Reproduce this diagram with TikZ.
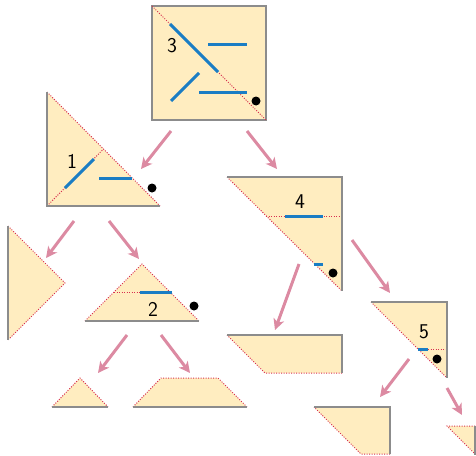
\documentclass[tikz,border=0pt]{standalone}
\usetikzlibrary{arrows.meta}
\definecolor{paper}{HTML}{FFEDC0}
\definecolor{edgegray}{HTML}{8C8C8C}
\definecolor{cutred}{HTML}{D8304F}
\definecolor{foldblue}{HTML}{1A7DC4}
\definecolor{arrpink}{HTML}{DC8AA2}
\tikzset{
  piece/.style={fill=paper,draw=none},
  edge/.style={draw=edgegray,line width=1.2pt},
  cut/.style={draw=cutred,line width=1pt,dash pattern=on 1pt off 1.5pt},
  fold/.style={draw=foldblue,line width=3pt},
  dotmark/.style={circle,fill=black,inner sep=0pt,minimum size=9pt},
  num/.style={font=\fontsize{21}{24}\selectfont\sffamily,inner sep=0pt},
  arr/.style={draw=arrpink,line width=3pt,-{Stealth[length=11pt,width=11pt,inset=3pt]}}
}
\begin{document}
\begin{tikzpicture}[x=1pt,y=-1pt]
\useasboundingbox (0,0) rectangle (476,455);
% ---------- square 3
\coordinate (s3a) at (152,6); \coordinate (s3b) at (266,6);
\coordinate (s3c) at (266,120); \coordinate (s3d) at (152,120);
\fill[paper] (s3a) -- (s3b) -- (s3c) -- (s3d) -- cycle;
\draw[edge] (s3a) -- (s3b) -- (s3c) -- (s3d) -- cycle;
\draw[cut] (s3a) -- (s3c);
\draw[fold] (170,24) -- (218,72);
\draw[fold] (208,44) -- (247,44);
\draw[fold] (171,101) -- (199,73);
\draw[fold] (199,92) -- (247,92);
\node[dotmark] (d3) at (256,101) {};
\node[num] (n3) at (172,46) {3};
% ---------- triangle 1
\coordinate (t1a) at (47,92); \coordinate (t1b) at (47,206); \coordinate (t1c) at (160,206);
\fill[paper] (t1a) -- (t1b) -- (t1c) -- cycle;
\draw[cut] (t1a) -- (t1c);
\draw[cut] (t1b) -- (103.5,149);
\draw[edge] (t1a) -- (t1b) -- (t1c);
\draw[fold] (65,188) -- (94,159);
\draw[fold] (99,178) -- (132,178);
\node[dotmark] (d1) at (152,188) {};
\node[num] (n1) at (72,161) {1};
% ---------- triangle 4
\coordinate (t4a) at (227,177); \coordinate (t4b) at (342,177); \coordinate (t4c) at (342,291);
\fill[paper] (t4a) -- (t4b) -- (t4c) -- cycle;
\draw[cut] (t4a) -- (t4c);
\draw[cut] (266,216) -- (342,216);
\draw[edge] (t4a) -- (t4b) -- (t4c);
\draw[fold] (285,216) -- (323,216);
\draw[fold] (314,264) -- (323,264);
\node[dotmark] (d4) at (333,273) {};
\node[num] (n4) at (300,202) {4};
% ---------- triangle 5
\coordinate (t5a) at (371,302); \coordinate (t5b) at (447,302); \coordinate (t5c) at (447,378);
\fill[paper] (t5a) -- (t5b) -- (t5c) -- cycle;
\draw[cut] (t5a) -- (t5c);
\draw[cut] (418,349) -- (447,349);
\draw[edge] (t5a) -- (t5b) -- (t5c);
\draw[fold] (418,349) -- (428,349);
\node[dotmark] (d5) at (437,359) {};
\node[num] (n5) at (424,332) {5};
% ---------- trapezoid from 4
\fill[paper] (227,335) -- (342,335) -- (342,373) -- (265,373) -- cycle;
\draw[cut] (342,373) -- (265,373) -- (227,335);
\draw[edge] (227,335) -- (342,335) -- (342,373);
% ---------- piece from 5 (left)
\fill[paper] (314,407) -- (390,407) -- (390,454) -- (361,454) -- cycle;
\draw[cut] (390,454) -- (361,454) -- (314,407);
\draw[edge] (314,407) -- (390,407) -- (390,454);
% ---------- small triangle from 5
\fill[paper] (447,426) -- (475,426) -- (475,454) -- cycle;
\draw[cut] (475,426) -- (447,426) -- (475,454);
\draw[edge] (475,426) -- (475,455);
% ---------- left triangle
\fill[paper] (8,226) -- (65,283) -- (8,340) -- cycle;
\draw[cut] (8,226) -- (65,283) -- (8,340);
\draw[edge] (8,226) -- (8,340);
% ---------- triangle 2
\coordinate (t2a) at (142,264); \coordinate (t2b) at (85,321); \coordinate (t2c) at (199,321);
\fill[paper] (t2a) -- (t2b) -- (t2c) -- cycle;
\draw[cut] (t2b) -- (t2a) -- (t2c);
\draw[cut] (114,292) -- (171,292);
\draw[edge] (t2b) -- (t2c);
\draw[fold] (140,292) -- (172,292);
\node[dotmark] (d2) at (194,306) {};
\node[num] (n2) at (153,309) {2};
% ---------- small triangle bottom
\fill[paper] (80,378) -- (52,407) -- (108,407) -- cycle;
\draw[cut] (52,407) -- (80,378) -- (108,407);
\draw[edge] (52,407) -- (108,407);
% ---------- trapezoid bottom
\fill[paper] (161,378) -- (218,378) -- (247,407) -- (133,407) -- cycle;
\draw[cut] (133,407) -- (161,378) -- (218,378) -- (247,407);
\draw[edge] (133,407) -- (247,407);
% ---------- arrows
\coordinate (a1s) at (171,131); \coordinate (a1e) at (141,169);
\coordinate (a2s) at (247,131); \coordinate (a2e) at (277,169);
\coordinate (a3s) at (74,221);  \coordinate (a3e) at (46,258);
\coordinate (a4s) at (109,221); \coordinate (a4e) at (139,259);
\coordinate (a5s) at (299,264); \coordinate (a5e) at (275,330);
\coordinate (a6s) at (352,240); \coordinate (a6e) at (390,293);
\coordinate (a7s) at (127,335); \coordinate (a7e) at (98,373);
\coordinate (a8s) at (161,335); \coordinate (a8e) at (190,373);
\coordinate (a9s) at (409,359); \coordinate (a9e) at (380,397);
\coordinate (a10s) at (447,388); \coordinate (a10e) at (462,415);
\foreach \i in {1,...,10} {\draw[arr] (a\i s) -- (a\i e);}
\end{tikzpicture}
\end{document}
